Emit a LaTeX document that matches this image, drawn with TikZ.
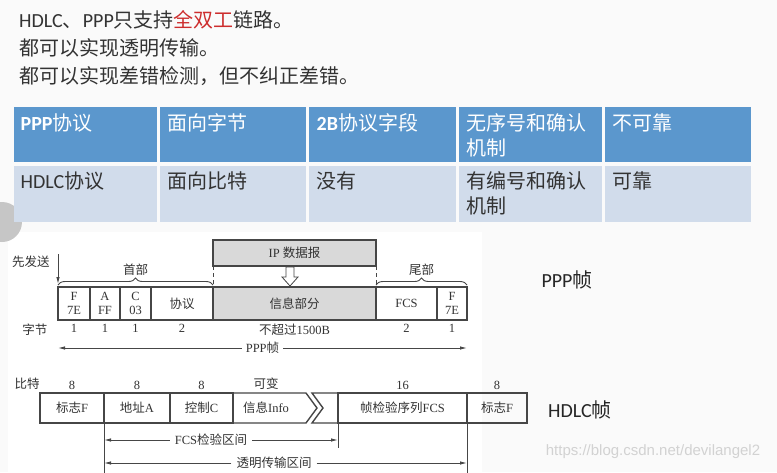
\documentclass[tikz,border=0pt]{standalone}
\usepackage{fontspec}
\setmainfont{Carlito}
\newfontfamily\zhfont{Noto Sans CJK SC}
\newfontfamily\figfont{Liberation Serif}
\newfontfamily\wmfont{Liberation Sans}
\usetikzlibrary{positioning,arrows.meta,calc,decorations.pathreplacing}
\definecolor{headblue}{RGB}{91,151,205}
\definecolor{rowblue}{RGB}{209,220,235}
\definecolor{inkgray}{RGB}{51,51,51}
\definecolor{fieldgray}{RGB}{217,217,217}
\definecolor{framegray}{RGB}{70,70,70}
\definecolor{alertred}{RGB}{205,45,45}
\newcommand\zh[1]{{\zhfont #1}}
\newcommand\slidesize{\fontsize{20}{25}\selectfont}
\newcommand\figsize{\fontsize{12.5}{14}\selectfont}

\tikzset{
  slideline/.style={anchor=west, inner sep=0pt, font=\slidesize, text=inkgray},
  tcell/.style={anchor=north west, inner sep=0pt, outer sep=0pt},
  ttext/.style={anchor=north west, inner sep=0pt, align=left, font=\slidesize},
  field/.style={draw=framegray, line width=1.1pt, minimum height=33pt, inner sep=0pt,
    outer sep=0pt, anchor=west, align=center, font=\figfont\figsize, text=inkgray},
  hfield/.style={field, minimum height=30pt, line width=1.4pt},
  numlabel/.style={inner sep=1pt, font=\figfont\figsize, text=inkgray},
  framepen/.style={draw=framegray, line width=1.1pt},
  dimarrow/.style={draw=framegray, line width=0.9pt, -{Latex[length=7pt,width=3.5pt]}},
  hbrace/.style={draw=framegray, line width=0.9pt,
    decorate, decoration={brace, amplitude=7pt, raise=2pt}},
  sidelabel/.style={inner sep=0pt, font=\slidesize, text=black!85}
}

\begin{document}
\begin{tikzpicture}[x=1pt, y=-1pt]
  \useasboundingbox (0,0) rectangle (777,472);
  \fill[gray!4] (0,0) rectangle (777,472);
  \fill[white] (8,232) rectangle (482,472);
  \fill[gray!45] (2,222) circle (20);

  % slide text
  \node[slideline] (line1) at (19,20)
    {HDLC\zh{、}PPP\zh{只支持}\textcolor{alertred}{\zh{全双工}}\zh{链路。}};
  \node[slideline] (line2) at (19,48) {\zh{都可以实现透明传输。}};
  \node[slideline] (line3) at (19,76) {\zh{都可以实现差错检测，但不纠正差错。}};

  % comparison table
  \foreach \x/\w [count=\i] in {12/146,158/149,307/150,457/146,603/149} {
    \node[tcell, fill=headblue, minimum width=\w-3, minimum height=55] (h\i) at (\x+1.5,107) {};
    \node[tcell, fill=rowblue, minimum width=\w-3, minimum height=56] (r\i) at (\x+1.5,166) {};
  }
  \node[ttext, text=white] (th1) at ($(h1.north west)+(7,6)$) {\textbf{PPP}\zh{协议}};
  \node[ttext, text=white] (th2) at ($(h2.north west)+(8,6)$) {\zh{面向字节}};
  \node[ttext, text=white] (th3) at ($(h3.north west)+(8,6)$) {\textbf{2B}\zh{协议字段}};
  \node[ttext, text=white] (th4) at ($(h4.north west)+(8,6)$) {\zh{无序号和确认}\\\zh{机制}};
  \node[ttext, text=white] (th5) at ($(h5.north west)+(8,6)$) {\zh{不可靠}};
  \node[ttext, text=inkgray] (tr1) at ($(r1.north west)+(7,5)$) {HDLC\zh{协议}};
  \node[ttext, text=inkgray] (tr2) at ($(r2.north west)+(8,5)$) {\zh{面向比特}};
  \node[ttext, text=inkgray] (tr3) at ($(r3.north west)+(8,5)$) {\zh{没有}};
  \node[ttext, text=inkgray] (tr4) at ($(r4.north west)+(8,5)$) {\zh{有编号和确认}\\\zh{机制}};
  \node[ttext, text=inkgray] (tr5) at ($(r5.north west)+(8,5)$) {\zh{可靠}};

  % PPP frame
  \node[field, minimum width=32] (pf1) at (58,303.5) {F\\7E};
  \node[field, minimum width=30, right=0pt of pf1] (pa) {A\\FF};
  \node[field, minimum width=31, right=0pt of pa] (pc) {C\\03};
  \node[field, minimum width=62, right=0pt of pc] (pproto) {\zh{协议}};
  \node[field, fill=fieldgray, minimum width=163, right=0pt of pproto] (pinfo) {\zh{信息部分}};
  \node[field, minimum width=61, right=0pt of pinfo] (pfcs) {FCS};
  \node[field, minimum width=30, right=0pt of pfcs] (pf2) {F\\7E};

  \node[field, fill=fieldgray, minimum width=163, minimum height=26] (ip) at (213,253) {IP \zh{数据报}};
  \draw[framepen, line width=0.8pt, dash pattern=on 4pt off 3pt] (ip.south west) -- (pinfo.north west);
  \draw[framepen, line width=0.8pt, dash pattern=on 4pt off 3pt] (ip.south east) -- (pinfo.north east);
  \draw[framepen, line width=0.8pt, fill=white]
    (286,267) -- (294,267) -- (294,277) -- (298,277) -- (290,286) -- (282,277) -- (286,277) -- cycle;

  \draw[hbrace] (pf1.north west) -- (pproto.north east)
    node[midway, above=10pt, numlabel] (headlbl) {\zh{首部}};
  \draw[hbrace] (pfcs.north west) -- (pf2.north east)
    node[midway, above=10pt, numlabel] (taillbl) {\zh{尾部}};

  \node[numlabel] (firstsend) at (31,262) {\zh{先发送}};
  \coordinate (sendtop) at (58,254);
  \coordinate (sendbot) at (58,284);
  \draw[dimarrow] (sendtop) -- (sendbot);

  \node[numlabel, below=3pt of pf1] (b1) {1};
  \node[numlabel, below=3pt of pa] (b2) {1};
  \node[numlabel, below=3pt of pc] (b3) {1};
  \node[numlabel, below=3pt of pproto] (b4) {2};
  \node[numlabel, below=3pt of pinfo] (b5) {\zh{不超过}1500B};
  \node[numlabel, below=3pt of pfcs] (b6) {2};
  \node[numlabel, below=3pt of pf2] (b7) {1};
  \node[numlabel] (bytelbl) at (35,330) {\zh{字节}};

  \node[numlabel, inner sep=4pt] (ppplbl) at (262.5,348) {PPP\zh{帧}};
  \draw[dimarrow] (ppplbl.west) -- (ppplbl.west -| pf1.west);
  \draw[dimarrow] (ppplbl.east) -- (ppplbl.east -| pf2.east);

  % HDLC frame
  \node[hfield, minimum width=64] (hf1) at (40,408) {\zh{标志}F};
  \node[hfield, minimum width=66, right=0pt of hf1] (haddr) {\zh{地址}A};
  \node[hfield, minimum width=63, right=0pt of haddr] (hctrl) {\zh{控制}C};
  \node[hfield, draw=none, minimum width=66, right=0pt of hctrl] (hinfo) {\zh{信息}Info};
  \node[hfield, minimum width=129] (hfcs) at (338,408) {\zh{帧检验序列}FCS};
  \node[hfield, minimum width=60, right=0pt of hfcs] (hf2) {\zh{标志}F};
  \draw[framepen, line width=1.4pt] (hctrl.north east) -- ++(73,0) -- ++(11,15) -- ++(-11,15) -- (hctrl.south east);
  \draw[framepen, line width=1.4pt] (hfcs.north west) -- ++(-26,0) -- ++(11,15) -- ++(-11,15) -- (hfcs.south west);

  \node[numlabel] (bitlbl) at (27,384) {\zh{比特}};
  \node[numlabel, above=2pt of hf1] (n1) {8};
  \node[numlabel, above=2pt of haddr] (n2) {8};
  \node[numlabel, above=2pt of hctrl] (n3) {8};
  \node[numlabel, above=2pt of hinfo] (n4) {\zh{可变}};
  \node[numlabel, above=2pt of hfcs] (n5) {16};
  \node[numlabel, above=2pt of hf2] (n6) {8};

  \draw[framepen, line width=0.9pt] (haddr.south west) -- ++(0,52);
  \draw[framepen, line width=0.9pt] (hfcs.south west) -- ++(0,25);
  \draw[framepen, line width=0.9pt] (hf2.south west) -- ++(0,52);

  \node[numlabel, inner sep=5pt] (fcsrange) at (211,440) {FCS\zh{检验区间}};
  \draw[dimarrow] (fcsrange.west) -- (fcsrange.west -| haddr.west);
  \draw[dimarrow] (fcsrange.east) -- (fcsrange.east -| hfcs.west);
  \node[numlabel, inner sep=5pt] (transrange) at (274,463) {\zh{透明传输区间}};
  \draw[dimarrow] (transrange.west) -- (transrange.west -| haddr.west);
  \draw[dimarrow] (transrange.east) -- (transrange.east -| hf2.west);

  % side labels
  \node[sidelabel] (pppname) at (567,280) {PPP\zh{帧}};
  \node[sidelabel] (hdlcname) at (580,410) {HDLC\zh{帧}};
  \node[font=\wmfont\fontsize{15}{15}\selectfont, text=gray!35] (mark) at (653,452)
    {https://blog.csdn.net/devilangel2};
\end{tikzpicture}
\end{document}
